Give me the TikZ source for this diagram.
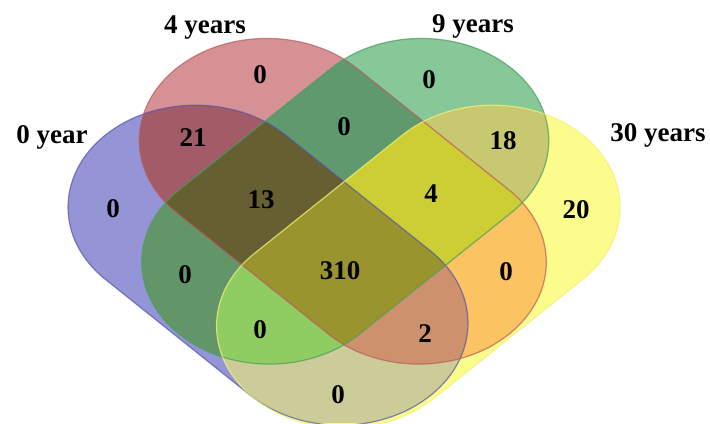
\documentclass[tikz,border=0pt]{standalone}
\usepackage{fontspec}
\setmainfont{Liberation Serif}
% region colours (B = 0 year, R = 4 years, G = 9 years, Y = 30 years)
\definecolor{regB}{RGB}{148,148,214}
\definecolor{regR}{RGB}{214,145,148}
\definecolor{regG}{RGB}{135,200,153}
\definecolor{regY}{RGB}{252,252,140}
\definecolor{regBR}{RGB}{162,92,104}
\definecolor{regBG}{RGB}{98,150,105}
\definecolor{regBY}{RGB}{204,204,153}
\definecolor{regRG}{RGB}{96,153,110}
\definecolor{regRY}{RGB}{252,195,98}
\definecolor{regGY}{RGB}{200,200,112}
\definecolor{regBRG}{RGB}{102,95,50}
\definecolor{regBRY}{RGB}{205,145,110}
\definecolor{regBGY}{RGB}{143,205,98}
\definecolor{regRGY}{RGB}{205,205,52}
\definecolor{regAll}{RGB}{153,148,45}
\definecolor{edgeB}{RGB}{85,85,170}
\definecolor{edgeR}{RGB}{185,90,95}
\definecolor{edgeG}{RGB}{75,155,95}
\definecolor{edgeY}{RGB}{240,240,120}
% set outline in its own frame, half length \halflen
\newcommand{\stadium}{(-\halflen,-102) -- (\halflen,-102)
  arc[start angle=-90,end angle=90,radius=102] -- (-\halflen,102)
  arc[start angle=90,end angle=270,radius=102] -- cycle}

\begin{document}
\begin{tikzpicture}[x=0.5pt,y=0.5pt,
 bset/.style={shift={(268,-265.2)},xscale=1.25,rotate=-45,/utils/exec={\def\halflen{82}}},
 rset/.style={shift={(342.75,-201.25)},xscale=1.25,rotate=-45,/utils/exec={\def\halflen{86}}},
 gset/.style={shift={(345.25,-201.25)},xscale=1.25,rotate=45,/utils/exec={\def\halflen{86}}},
 yset/.style={shift={(418.3,-266.6)},xscale=1.25,rotate=45,/utils/exec={\def\halflen{84}}},
 rim/.style={line width=.6pt,draw opacity=.7},
 setlabel/.style={font=\fontsize{13.5}{16}\selectfont\bfseries},
 num/.style={font=\fontsize{13.5}{16}\selectfont\bfseries}]
\useasboundingbox (0,0) rectangle (710,-423);
\begin{scope}
\clip (0,0) rectangle (710,-423);
% single sets
\fill[bset,regB] \stadium;
\fill[rset,regR] \stadium;
\fill[gset,regG] \stadium;
\fill[yset,regY] \stadium;
% pairs
\begin{scope}\clip[bset]\stadium; \clip[rset]\stadium; \fill[regBR] (0,0) rectangle (710,-423);\end{scope}
\begin{scope}\clip[bset]\stadium; \clip[gset]\stadium; \fill[regBG] (0,0) rectangle (710,-423);\end{scope}
\begin{scope}\clip[bset]\stadium; \clip[yset]\stadium; \fill[regBY] (0,0) rectangle (710,-423);\end{scope}
\begin{scope}\clip[rset]\stadium; \clip[gset]\stadium; \fill[regRG] (0,0) rectangle (710,-423);\end{scope}
\begin{scope}\clip[rset]\stadium; \clip[yset]\stadium; \fill[regRY] (0,0) rectangle (710,-423);\end{scope}
\begin{scope}\clip[gset]\stadium; \clip[yset]\stadium; \fill[regGY] (0,0) rectangle (710,-423);\end{scope}
% triples
\begin{scope}\clip[bset]\stadium; \clip[rset]\stadium; \clip[gset]\stadium; \fill[regBRG] (0,0) rectangle (710,-423);\end{scope}
\begin{scope}\clip[bset]\stadium; \clip[rset]\stadium; \clip[yset]\stadium; \fill[regBRY] (0,0) rectangle (710,-423);\end{scope}
\begin{scope}\clip[bset]\stadium; \clip[gset]\stadium; \clip[yset]\stadium; \fill[regBGY] (0,0) rectangle (710,-423);\end{scope}
\begin{scope}\clip[rset]\stadium; \clip[gset]\stadium; \clip[yset]\stadium; \fill[regRGY] (0,0) rectangle (710,-423);\end{scope}
% all four
\begin{scope}\clip[bset]\stadium; \clip[rset]\stadium; \clip[gset]\stadium; \clip[yset]\stadium;
\fill[regAll] (0,0) rectangle (710,-423);\end{scope}
% outlines
\draw[bset,rim,edgeB] \stadium;
\draw[rset,rim,edgeR] \stadium;
\draw[gset,rim,edgeG] \stadium;
\draw[yset,rim,edgeY] \stadium;
\end{scope}
% set names
\node[setlabel] (y0) at (52,-137) {0 year};
\node[setlabel] (y4) at (205,-28) {4 years};
\node[setlabel] (y9) at (473,-26) {9 years};
\node[setlabel] (y30) at (658,-135) {30 years};
% counts
\node[num] (r) at (260,-75) {0};
\node[num] (g) at (429,-80) {0};
\node[num] (rg) at (344,-127) {0};
\node[num] (br) at (193,-138) {21};
\node[num] (gy) at (503,-141) {18};
\node[num] (b) at (113,-209) {0};
\node[num] (y) at (576,-210) {20};
\node[num] (brg) at (261,-200) {13};
\node[num] (rgy) at (431,-194) {4};
\node[num] (all) at (340,-271) {310};
\node[num] (bg) at (185,-275) {0};
\node[num] (ry) at (506,-272) {0};
\node[num] (bgy) at (260,-330) {0};
\node[num] (bry) at (425,-334) {2};
\node[num] (by) at (338,-395) {0};
\end{tikzpicture}
\end{document}
